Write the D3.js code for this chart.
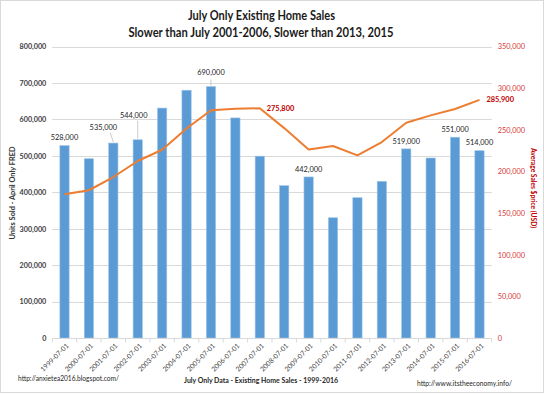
<!DOCTYPE html>
<html>
<head>
<meta charset="utf-8">
<script src="https://cdn.jsdelivr.net/npm/d3@7"></script>
<style>
  body { margin: 0; background: #fff; }
  svg { font-family: Lato, "Open Sans", sans-serif; }
</style>
</head>
<body>
<svg id="chart"></svg>
<script>
const months = ["1999-07-01", "2000-07-01", "2001-07-01", "2002-07-01", "2003-07-01", "2004-07-01",
  "2005-07-01", "2006-07-01", "2007-07-01", "2008-07-01", "2009-07-01", "2010-07-01",
  "2011-07-01", "2012-07-01", "2013-07-01", "2014-07-01", "2015-07-01", "2016-07-01"];
const unitsSold = [528000, 492000, 535000, 544000, 631000, 680000, 690000, 604000, 499000,
  418000, 442000, 330000, 385000, 430000, 519000, 494000, 551000, 514000];
const avgPrice = [172600, 177400, 193300, 212500, 226000, 251500, 273500, 275400, 275800,
  252000, 226200, 230500, 219300, 235300, 258500, 267300, 274900, 285900];
const leftTicks = [0, 100000, 200000, 300000, 400000, 500000, 600000, 700000, 800000];
const rightTicks = [0, 50000, 100000, 150000, 200000, 250000, 300000, 350000];
const labelledBars = ["1999-07-01", "2001-07-01", "2002-07-01", "2005-07-01", "2009-07-01",
  "2013-07-01", "2015-07-01", "2016-07-01"];
const labelledPoints = ["2007-07-01", "2016-07-01"];

const WIDTH = 544,
  HEIGHT = 395,
  BAR_COLOR = "#5b9bd5",
  LINE_COLOR = "#ed7d31",
  RED = "#c00000",
  GRID = "#d9d9d9",
  fmt = d3.format(",");

// moved labels get a leader line, like Excel does
const barLabelShift = {
  "2001-07-01": [-10, -14],
  "2002-07-01": [-4, -23],
  "2005-07-01": [0, -12]
};

const svg = d3.select("#chart").attr("width", WIDTH).attr("height", HEIGHT);

svg.append("rect")
  .attr("x", 0.5).attr("y", 0.5)
  .attr("width", WIDTH - 1).attr("height", 392)
  .attr("fill", "#fff").attr("stroke", GRID);

const margin = { left: 52.3, right: 491.7, top: 46.5, bottom: 338 };

const x = d3.scaleBand()
  .domain(months)
  .range([margin.left, margin.right])
  .paddingInner(0.62)
  .paddingOuter(0.31);

const yL = d3.scaleLinear().domain([0, 800000]).range([margin.bottom, margin.top]);
const yR = d3.scaleLinear().domain([0, 350000]).range([margin.bottom, margin.top]);

// gridlines
svg.append("g")
  .selectAll("line")
  .data(leftTicks.slice(1))
  .enter()
  .append("line")
  .attr("x1", margin.left).attr("x2", margin.right)
  .attr("y1", d => Math.round(yL(d)) + 0.5).attr("y2", d => Math.round(yL(d)) + 0.5)
  .attr("stroke", GRID).attr("stroke-width", 1);

// left axis
const leftAxis = svg.append("g")
  .attr("transform", `translate(${margin.left},0)`)
  .call(d3.axisLeft(yL).tickValues(leftTicks).tickFormat(fmt).tickSize(0).tickPadding(6));
leftAxis.select(".domain").remove();
leftAxis.selectAll("text")
  .attr("font-family", "Lato, sans-serif")
  .attr("font-size", 7.2)
  .attr("font-weight", "bold")
  .attr("fill", "#404040");

// right axis
const rightAxis = svg.append("g")
  .attr("transform", `translate(${margin.right},0)`)
  .call(d3.axisRight(yR).tickValues(rightTicks).tickFormat(fmt).tickSize(0).tickPadding(6));
rightAxis.select(".domain").remove();
rightAxis.selectAll("text")
  .attr("font-family", "Lato, sans-serif")
  .attr("font-size", 7.4)
  .attr("fill", "#d9383a");

// bars
svg.append("g")
  .selectAll("rect")
  .data(months)
  .enter()
  .append("rect")
  .attr("x", d => x(d))
  .attr("y", (d, i) => yL(unitsSold[i]))
  .attr("width", x.bandwidth())
  .attr("height", (d, i) => yL(0) - yL(unitsSold[i]))
  .attr("fill", BAR_COLOR)
  .attr("stroke", "#9dc3e6")
  .attr("stroke-width", 0.6);

// x axis line and ticks
const xAxis = svg.append("g").attr("transform", `translate(0,${margin.bottom + 0.5})`);
xAxis.append("line")
  .attr("x1", margin.left).attr("x2", margin.right)
  .attr("stroke", GRID);
xAxis.selectAll(".tk")
  .data(months.concat(["end"]))
  .enter()
  .append("line")
  .attr("class", "tk")
  .attr("x1", (d, i) => margin.left + i * x.step())
  .attr("x2", (d, i) => margin.left + i * x.step())
  .attr("y1", 0).attr("y2", 4)
  .attr("stroke", GRID);
xAxis.selectAll("text")
  .data(months)
  .enter()
  .append("text")
  .attr("transform", d => `translate(${x(d) + x.bandwidth() / 2 + 3},${6}) rotate(-45)`)
  .attr("text-anchor", "end")
  .attr("dy", "0.35em")
  .attr("font-size", 6.8)
  .attr("fill", "#404040")
  .text(d => d);

// price line
const line = d3.line()
  .x((d, i) => x(months[i]) + x.bandwidth() / 2)
  .y(d => yR(d));

svg.append("path")
  .datum(avgPrice)
  .attr("d", line)
  .attr("fill", "none")
  .attr("stroke", LINE_COLOR)
  .attr("stroke-width", 2)
  .attr("stroke-linejoin", "round");

// bar labels
const barLab = svg.append("g");
labelledBars.forEach(m => {
  const i = months.indexOf(m),
    cx = x(m) + x.bandwidth() / 2,
    top = yL(unitsSold[i]),
    shift = barLabelShift[m] || [0, -6];
  const lx = cx + shift[0],
    ly = top + shift[1];
  if (barLabelShift[m]) {
    barLab.append("line")
      .attr("x1", m === "2001-07-01" ? lx + 7 : m === "2002-07-01" ? lx + 4 : cx)
      .attr("y1", m === "2005-07-01" ? ly + 5 : ly + 4)
      .attr("x2", cx)
      .attr("y2", top - 1)
      .attr("stroke", "#bfbfbf")
      .attr("stroke-width", 0.8);
  }
  barLab.append("text")
    .attr("x", lx)
    .attr("y", ly)
    .attr("text-anchor", "middle")
    .attr("dy", "0.1em")
    .attr("font-size", 7.4)
    .attr("fill", "#262626")
    .text(fmt(unitsSold[i]));
});

// line labels
labelledPoints.forEach(m => {
  const i = months.indexOf(m);
  svg.append("text")
    .attr("x", x(m) + x.bandwidth() / 2 + 7)
    .attr("y", yR(avgPrice[i]))
    .attr("dy", "0.35em")
    .attr("font-size", 7.4)
    .attr("font-weight", "bold")
    .attr("fill", RED)
    .text(fmt(avgPrice[i]));
});

// titles (squeezed to the narrower Calibri widths of the original)
function fitted(sel, len) {
  return sel.attr("textLength", len).attr("lengthAdjust", "spacingAndGlyphs");
}

svg.append("text")
  .attr("x", 261.5).attr("y", 20)
  .attr("text-anchor", "middle")
  .attr("font-size", 13.5).attr("font-weight", "bold").attr("fill", "#1a1a1a")
  .text("July Only Existing Home Sales")
  .call(fitted, 147);
svg.append("text")
  .attr("x", 261).attr("y", 37)
  .attr("text-anchor", "middle")
  .attr("font-size", 13.5).attr("font-weight", "bold").attr("fill", "#1a1a1a")
  .text("Slower than July 2001-2006, Slower than 2013, 2015")
  .call(fitted, 265);

svg.append("text")
  .attr("transform", "translate(15,193) rotate(-90)")
  .attr("text-anchor", "middle")
  .attr("font-size", 7.8).attr("font-weight", "bold").attr("fill", "#333")
  .text("Units Sold - April Only FRED")
  .call(fitted, 93);

svg.append("text")
  .attr("transform", "translate(531,188) rotate(90)")
  .attr("text-anchor", "middle")
  .attr("font-size", 7.8).attr("font-weight", "bold").attr("fill", RED)
  .text("Average Sales $price (USD)")
  .call(fitted, 80);

svg.append("text")
  .attr("x", 261).attr("y", 383)
  .attr("text-anchor", "middle")
  .attr("font-size", 7.6).attr("font-weight", "bold").attr("fill", "#262626")
  .text("July Only Data - Existing Home Sales - 1999-2016")
  .call(fitted, 154);

svg.append("text")
  .attr("x", 18).attr("y", 381)
  .attr("font-size", 6.8).attr("fill", "#262626")
  .text("http://anxietea2016.blogspot.com/")
  .call(fitted, 101);

svg.append("text")
  .attr("x", 512).attr("y", 386)
  .attr("text-anchor", "end")
  .attr("font-size", 6.8).attr("fill", "#262626")
  .text("http://www.itstheeconomy.info/")
  .call(fitted, 95);
</script>
</body>
</html>
